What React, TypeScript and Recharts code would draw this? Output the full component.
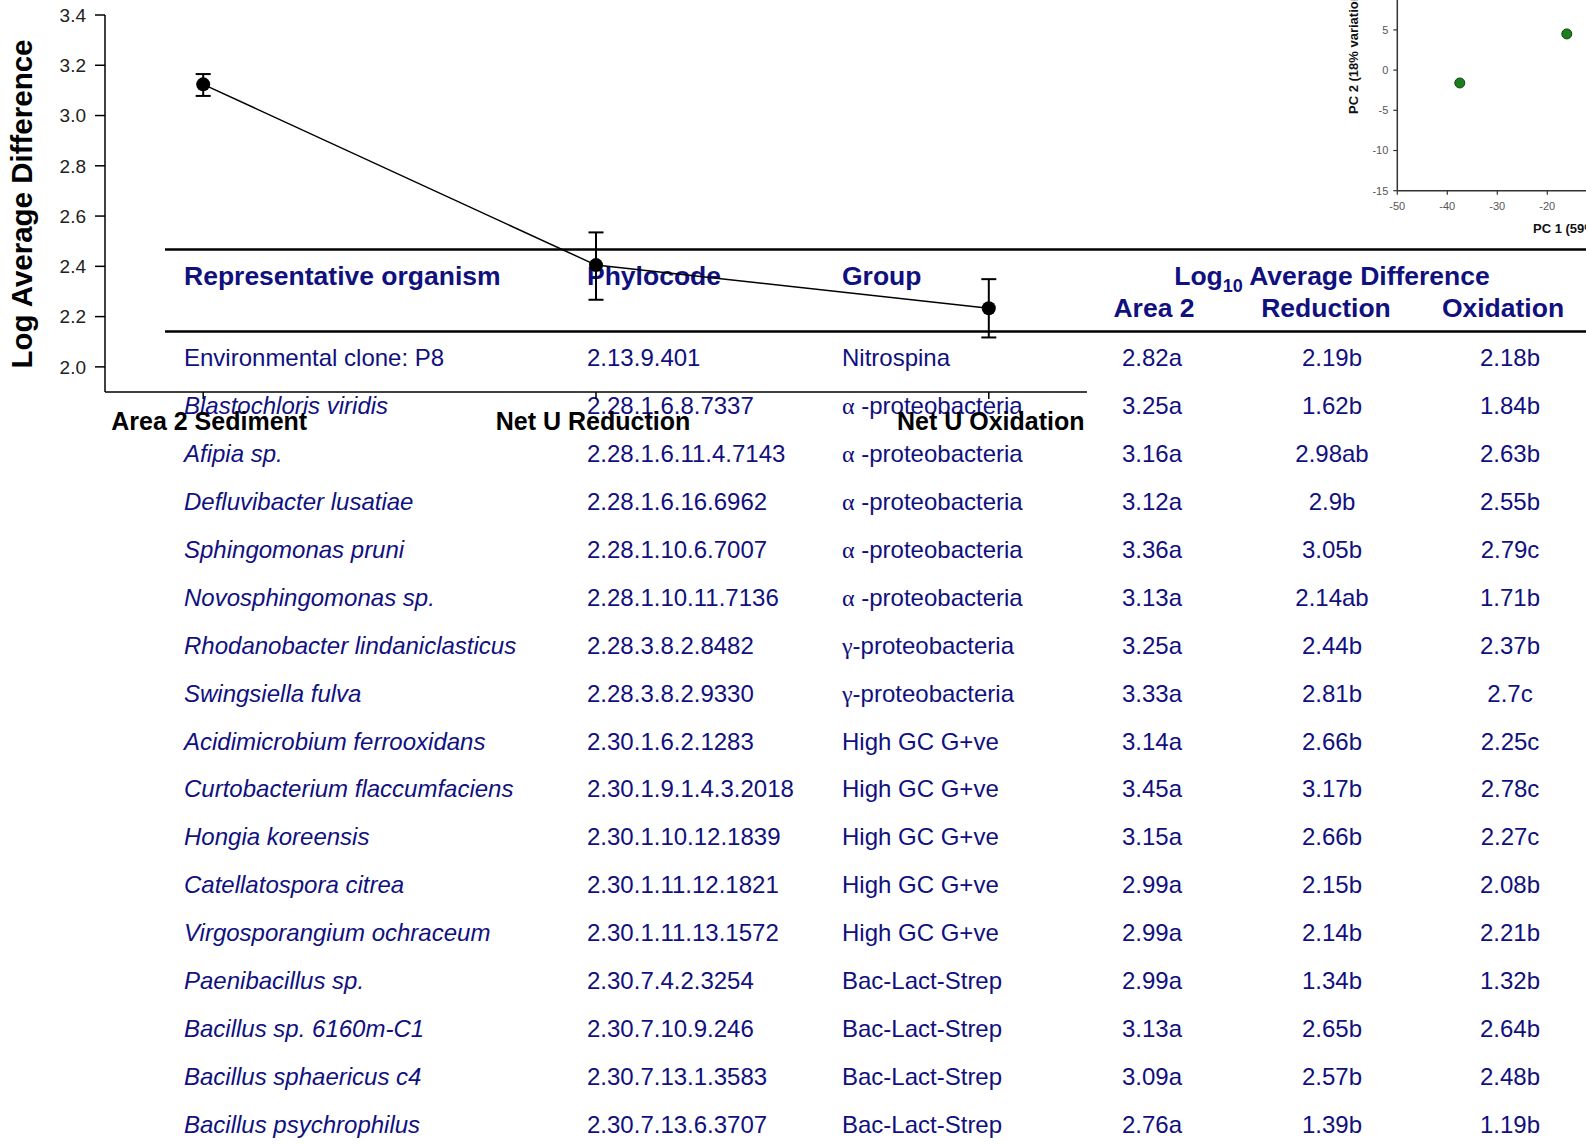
import React from 'react';
import { LineChart, Line, XAxis, YAxis, ErrorBar, ScatterChart, Scatter } from 'recharts';

// ---------- main line chart data ----------
const categories = ['Area 2 Sediment', 'Net U Reduction', 'Net U Oxidation'];
const means = [3.124, 2.405, 2.233];
const errLow = [0.046, 0.138, 0.116];
const errHigh = [0.041, 0.13, 0.116];
const yTicks = [2.0, 2.2, 2.4, 2.6, 2.8, 3.0, 3.2, 3.4];

// ---------- table data ----------
const organisms = [
  'Environmental clone: P8',
  'Blastochloris viridis',
  'Afipia sp.',
  'Defluvibacter lusatiae',
  'Sphingomonas pruni',
  'Novosphingomonas sp.',
  'Rhodanobacter lindaniclasticus',
  'Swingsiella fulva',
  'Acidimicrobium ferrooxidans',
  'Curtobacterium flaccumfaciens',
  'Hongia koreensis',
  'Catellatospora citrea',
  'Virgosporangium ochraceum',
  'Paenibacillus sp.',
  'Bacillus sp. 6160m-C1',
  'Bacillus sphaericus c4',
  'Bacillus psychrophilus',
];
const italicNames = [false, true, true, true, true, true, true, true, true, true, true, true, true, true, true, true, true];
const phylocodes = [
  '2.13.9.401',
  '2.28.1.6.8.7337',
  '2.28.1.6.11.4.7143',
  '2.28.1.6.16.6962',
  '2.28.1.10.6.7007',
  '2.28.1.10.11.7136',
  '2.28.3.8.2.8482',
  '2.28.3.8.2.9330',
  '2.30.1.6.2.1283',
  '2.30.1.9.1.4.3.2018',
  '2.30.1.10.12.1839',
  '2.30.1.11.12.1821',
  '2.30.1.11.13.1572',
  '2.30.7.4.2.3254',
  '2.30.7.10.9.246',
  '2.30.7.13.1.3583',
  '2.30.7.13.6.3707',
];
const groups = [
  'Nitrospina',
  'α -proteobacteria',
  'α -proteobacteria',
  'α -proteobacteria',
  'α -proteobacteria',
  'α -proteobacteria',
  'γ-proteobacteria',
  'γ-proteobacteria',
  'High GC G+ve',
  'High GC G+ve',
  'High GC G+ve',
  'High GC G+ve',
  'High GC G+ve',
  'Bac-Lact-Strep',
  'Bac-Lact-Strep',
  'Bac-Lact-Strep',
  'Bac-Lact-Strep',
];
const area2Vals = ['2.82a', '3.25a', '3.16a', '3.12a', '3.36a', '3.13a', '3.25a', '3.33a', '3.14a', '3.45a', '3.15a', '2.99a', '2.99a', '2.99a', '3.13a', '3.09a', '2.76a'];
const reductionVals = ['2.19b', '1.62b', '2.98ab', '2.9b', '3.05b', '2.14ab', '2.44b', '2.81b', '2.66b', '3.17b', '2.66b', '2.15b', '2.14b', '1.34b', '2.65b', '2.57b', '1.39b'];
const oxidationVals = ['2.18b', '1.84b', '2.63b', '2.55b', '2.79c', '1.71b', '2.37b', '2.7c', '2.25c', '2.78c', '2.27c', '2.08b', '2.21b', '1.32b', '2.64b', '2.48b', '1.19b'];

// ---------- inset PCA scatter data ----------
const pc1 = [-37.5, -16.1];
const pc2 = [-1.6, 4.5];
const pcXTicks = [-50, -40, -30, -20, -10, 0, 10, 20, 30];
const pcYTicks = [-15, -10, -5, 0, 5, 10, 15];

const SANS = '"Liberation Sans", Arial, Helvetica, sans-serif';
const SERIF = '"Liberation Serif", "Times New Roman", serif';
const NAVY = '#10107f';
const X_LABEL_NUDGE = [6, -3, 2];

const lineData = categories.map((c, i) => ({ x: i, y: means[i], err: [errLow[i], errHigh[i]] }));
const scatterData = pc1.map((x, i) => ({ x, y: pc2[i] }));

const XTick = (props: any) => {
  const { x, payload } = props;
  const idx = payload.value as number;
  return (
    <text x={x + (X_LABEL_NUDGE[idx] || 0)} y={430} textAnchor="middle" fontSize={25} fontWeight="bold" fill="#000" fontFamily={SANS}>
      {categories[idx]}
    </text>
  );
};

const GroupText = ({ label, x, y }: { label: string; x: number; y: number }) => {
  const first = label.charAt(0);
  const greek = first === 'α' || first === 'γ';
  return (
    <text x={x} y={y} fontSize={24} fill={NAVY} fontFamily={SANS}>
      {greek ? (
        <>
          <tspan fontFamily={SERIF}>{first}</tspan>
          <tspan>{label.slice(1)}</tspan>
        </>
      ) : (
        label
      )}
    </text>
  );
};

const TableLayer = () => {
  const base = 366;
  const step = 47.94;
  return (
    <svg width={1586} height={1144} style={{ position: 'absolute', left: 0, top: 0 }}>
      <line x1={165} x2={1586} y1={249.5} y2={249.5} stroke="#000" strokeWidth={2.6} />
      <line x1={165} x2={1586} y1={331.5} y2={331.5} stroke="#000" strokeWidth={2.6} />
      <g fontFamily={SANS} fontWeight="bold" fontSize={26.5} fill={NAVY}>
        <text x={184} y={285}>Representative organism</text>
        <text x={587} y={285}>Phylocode</text>
        <text x={842} y={285}>Group</text>
        <text x={1332} y={285} textAnchor="middle">
          Log<tspan fontSize={18} dy={7}>10</tspan>
          <tspan dy={-7}> Average Difference</tspan>
        </text>
        <text x={1154} y={316.5} textAnchor="middle">Area 2</text>
        <text x={1326} y={316.5} textAnchor="middle">Reduction</text>
        <text x={1503} y={316.5} textAnchor="middle">Oxidation</text>
      </g>
      {organisms.map((name, i) => {
        const y = base + step * i;
        return (
          <g key={name}>
            <text x={184} y={y} fontSize={24} fill={NAVY} fontFamily={SANS} fontStyle={italicNames[i] ? 'italic' : 'normal'}>
              {name}
            </text>
            <text x={587} y={y} fontSize={24} fill={NAVY} fontFamily={SANS}>
              {phylocodes[i]}
            </text>
            <GroupText label={groups[i]} x={842} y={y} />
            <text x={1152} y={y} fontSize={24} fill={NAVY} fontFamily={SANS} textAnchor="middle">
              {area2Vals[i]}
            </text>
            <text x={1332} y={y} fontSize={24} fill={NAVY} fontFamily={SANS} textAnchor="middle">
              {reductionVals[i]}
            </text>
            <text x={1510} y={y} fontSize={24} fill={NAVY} fontFamily={SANS} textAnchor="middle">
              {oxidationVals[i]}
            </text>
          </g>
        );
      })}
      {/* inset axis titles */}
      <text
        x={1358}
        y={114}
        transform="rotate(-90 1358 114)"
        fontSize={13}
        fontWeight="bold"
        fill="#111"
        fontFamily={SANS}
      >
        PC 2 (18% variation)
      </text>
      <text x={1533} y={233} fontSize={13} fontWeight="bold" fill="#111" fontFamily={SANS}>
        PC 1 (59% variation)
      </text>
      {/* main chart y-axis title */}
      <text
        x={32}
        y={204}
        transform="rotate(-90 32 204)"
        textAnchor="middle"
        fontSize={29.5}
        fontWeight="bold"
        fill="#000"
        fontFamily={SANS}
      >
        Log Average Difference
      </text>
    </svg>
  );
};

export default function App() {
  return (
    <div
      style={{
        position: 'absolute',
        left: 0,
        top: 0,
        width: 1586,
        height: 1144,
        overflow: 'hidden',
        background: '#fff',
        fontFamily: SANS,
      }}
    >
      <TableLayer />
      <div style={{ position: 'absolute', left: 0, top: 0 }}>
        <LineChart width={1100} height={440} data={lineData} margin={{ top: 15, right: 13, left: 0, bottom: 0 }}>
          <XAxis
            dataKey="x"
            type="number"
            domain={[-0.25, 2.25]}
            ticks={[0, 1, 2]}
            height={48}
            tickSize={7}
            axisLine={{ stroke: '#000', strokeWidth: 1.5 }}
            tickLine={{ stroke: '#000', strokeWidth: 1.5 }}
            tick={(p: any) => <XTick {...p} />}
            interval={0}
          />
          <YAxis
            type="number"
            domain={[1.9, 3.4]}
            ticks={yTicks}
            width={105}
            tickSize={10}
            tickMargin={9}
            interval={0}
            axisLine={{ stroke: '#000', strokeWidth: 1.5 }}
            tickLine={{ stroke: '#000', strokeWidth: 1.5 }}
            tick={{ fontSize: 19, fill: '#222', fontFamily: SANS }}
            tickFormatter={(v: number) => v.toFixed(1)}
            allowDataOverflow
          />
          <Line
            dataKey="y"
            stroke="#000"
            strokeWidth={1.5}
            isAnimationActive={false}
            dot={{ r: 7, fill: '#000', stroke: '#000', strokeWidth: 0 }}
            activeDot={false}
          >
            <ErrorBar dataKey="err" width={7.5} strokeWidth={2} stroke="#000" direction="y" isAnimationActive={false} />
          </Line>
        </LineChart>
      </div>
      <div style={{ position: 'absolute', left: 1340, top: -60 }}>
        <ScatterChart width={500} height={300} margin={{ top: 9.5, right: 42.7, left: 0, bottom: 0 }}>
          <XAxis
            dataKey="x"
            type="number"
            domain={[-50, 30]}
            ticks={pcXTicks}
            interval={0}
            height={49.3}
            tickSize={4}
            tickMargin={7}
            axisLine={{ stroke: '#333', strokeWidth: 1.5 }}
            tickLine={{ stroke: '#333', strokeWidth: 1.2 }}
            tick={{ fontSize: 11, fill: '#555', fontFamily: SANS }}
          />
          <YAxis
            dataKey="y"
            type="number"
            domain={[-15, 15]}
            ticks={pcYTicks}
            interval={0}
            width={57.3}
            tickSize={4}
            tickMargin={5}
            axisLine={{ stroke: '#333', strokeWidth: 1.5 }}
            tickLine={{ stroke: '#333', strokeWidth: 1.2 }}
            tick={{ fontSize: 11, fill: '#555', fontFamily: SANS }}
          />
          <Scatter
            data={scatterData}
            isAnimationActive={false}
            shape={(p: any) => <circle cx={p.cx} cy={p.cy} r={5} fill="#1e7d1e" stroke="#0c4a0c" strokeWidth={1} />}
          />
        </ScatterChart>
      </div>
    </div>
  );
}
